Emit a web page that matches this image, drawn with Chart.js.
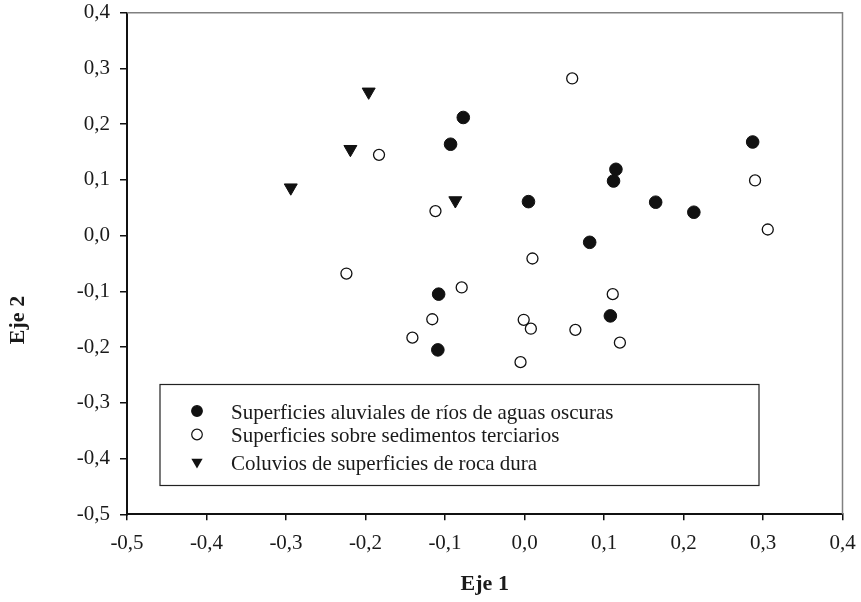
<!DOCTYPE html>
<html>
<head>
<meta charset="utf-8">
<script src="https://cdn.jsdelivr.net/npm/chart.js@4.4.0/dist/chart.umd.min.js"></script>
<style>
  html, body { margin: 0; padding: 0; background: #fff; }
  #wrap { width: 861px; height: 602px; }
</style>
</head>
<body>
<div id="wrap"><canvas id="c" width="861" height="602"></canvas></div>
<script>
// ---- Data ----
const seriesLabels = [
  "Superficies aluviales de ríos de aguas oscuras",
  "Superficies sobre sedimentos terciarios",
  "Coluvios de superficies de roca dura"
];
const aluvialX = [-0.077, -0.093, 0.287, 0.115, 0.112, 0.005, 0.165, 0.213, 0.082, -0.108, -0.109, 0.108];
const aluvialY = [0.212, 0.164, 0.168, 0.119, 0.098, 0.061, 0.060, 0.042, -0.012, -0.105, -0.205, -0.144];
const terciarioX = [-0.183, -0.224, 0.060, 0.290, -0.112, 0.306, 0.010, -0.079, 0.111, -0.116, -0.141, -0.001, 0.008, 0.064, 0.120, -0.005];
const terciarioY = [0.145, -0.068, 0.282, 0.099, 0.044, 0.011, -0.041, -0.093, -0.105, -0.150, -0.183, -0.151, -0.167, -0.169, -0.192, -0.227];
const coluvioX = [-0.196, -0.219, -0.294, -0.087];
const coluvioY = [0.258, 0.155, 0.086, 0.063];

const xAxisTitle = "Eje 1";
const yAxisTitle = "Eje 2";
const xMin = -0.5, xMax = 0.4, yMin = -0.5, yMax = 0.4, tickStep = 0.1;

const toPts = (xs, ys) => xs.map((x, i) => ({ x: x, y: ys[i] }));
const fmt = v => (Math.round(v * 10) / 10).toFixed(1).replace('.', ',').replace('-0,0', '0,0');

const SERIF = "'Liberation Serif', 'Times New Roman', serif";
const INK = '#1a1a1a';

const frame = {
  id: 'frame',
  afterDraw(chart) {
    const { ctx, chartArea: a } = chart;
    ctx.save();
    ctx.strokeStyle = '#808080';
    ctx.lineWidth = 1.5;
    ctx.beginPath();
    ctx.moveTo(a.left, a.top);
    ctx.lineTo(a.right, a.top);
    ctx.lineTo(a.right, a.bottom);
    ctx.stroke();

    // axis titles
    ctx.fillStyle = INK;
    ctx.font = "bold 22px " + SERIF;
    ctx.textAlign = 'center';
    ctx.textBaseline = 'middle';
    ctx.fillText(xAxisTitle, (a.left + a.right) / 2, 584);
    ctx.translate(18, 320);
    ctx.rotate(-Math.PI / 2);
    ctx.fillText(yAxisTitle, 0, 0);
    ctx.restore();

    // legend box
    const bx = 160, by = 384.5, bw = 599, bh = 101;
    ctx.save();
    ctx.fillStyle = '#fff';
    ctx.fillRect(bx, by, bw, bh);
    ctx.strokeStyle = '#222';
    ctx.lineWidth = 1.2;
    ctx.strokeRect(bx, by, bw, bh);
    const rows = [411, 434.5, 462];
    ctx.font = "21px " + SERIF;
    ctx.textAlign = 'left';
    ctx.textBaseline = 'middle';
    chart.data.datasets.forEach((ds, i) => {
      const mx = 197, my = rows[i];
      ctx.beginPath();
      if (ds.pointStyle === 'triangle') {
        const r = 6.5;
        ctx.moveTo(mx - r * 0.866, my - r / 2);
        ctx.lineTo(mx + r * 0.866, my - r / 2);
        ctx.lineTo(mx, my + r);
        ctx.closePath();
        ctx.fillStyle = '#111';
        ctx.fill();
      } else {
        ctx.arc(mx, my, 5.3, 0, Math.PI * 2);
        ctx.fillStyle = ds.backgroundColor;
        ctx.fill();
        ctx.strokeStyle = '#111';
        ctx.lineWidth = 1.2;
        ctx.stroke();
      }
      ctx.fillStyle = INK;
      ctx.fillText(ds.label, 231, my + 2);
    });
    ctx.restore();
  }
};

new Chart(document.getElementById('c'), {
  type: 'scatter',
  data: {
    datasets: [
      { label: seriesLabels[0], data: toPts(aluvialX, aluvialY), pointStyle: 'circle', pointRadius: 6.3,
        backgroundColor: '#111', borderColor: '#111', borderWidth: 1 },
      { label: seriesLabels[1], data: toPts(terciarioX, terciarioY), pointStyle: 'circle', pointRadius: 5.5,
        backgroundColor: '#fff', borderColor: '#111', borderWidth: 1.3 },
      { label: seriesLabels[2], data: toPts(coluvioX, coluvioY), pointStyle: 'triangle', pointRotation: 180,
        pointRadius: 7.5, backgroundColor: '#111', borderColor: '#111', borderWidth: 1 }
    ]
  },
  options: {
    responsive: false,
    animation: false,
    devicePixelRatio: 1,
    layout: { padding: 0 },
    plugins: { legend: { display: false }, tooltip: { enabled: false }, title: { display: false } },
    scales: {
      x: {
        type: 'linear', min: xMin, max: xMax,
        afterFit(s) { s.height = 87.7; s.paddingLeft = 0; s.paddingRight = 18.5; },
        border: { display: true, color: '#111', width: 2 },
        grid: { display: true, drawOnChartArea: false, drawTicks: true, tickLength: 6, color: '#111', lineWidth: 1.5 },
        ticks: { stepSize: tickStep, padding: 11, color: INK, font: { family: SERIF, size: 21 }, callback: v => fmt(v) }
      },
      y: {
        type: 'linear', min: yMin, max: yMax,
        afterFit(s) { s.width = 127; s.paddingTop = 12.7; s.paddingBottom = 0; },
        border: { display: true, color: '#111', width: 2 },
        grid: { display: true, drawOnChartArea: false, drawTicks: true, tickLength: 7, color: '#111', lineWidth: 1.5 },
        ticks: { stepSize: tickStep, padding: 10, color: INK, font: { family: SERIF, size: 21 }, callback: v => fmt(v) }
      }
    }
  },
  plugins: [frame]
});
</script>
</body>
</html>
